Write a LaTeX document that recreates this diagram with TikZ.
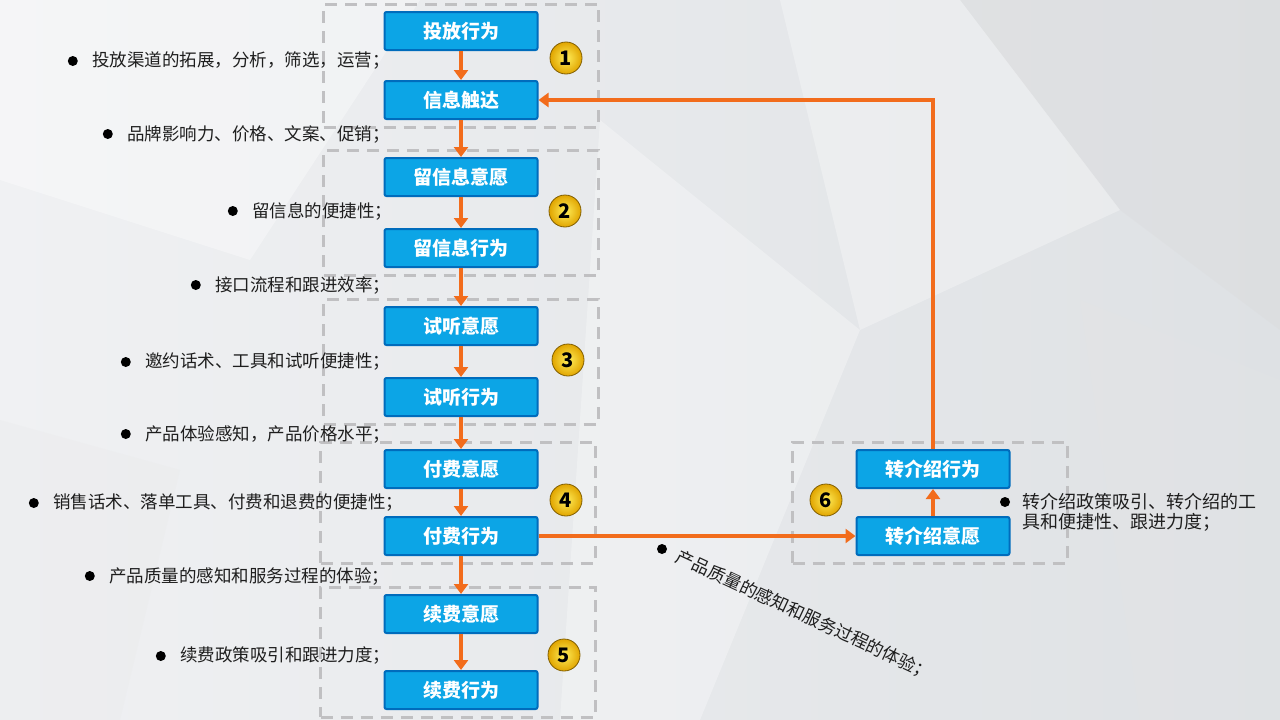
\documentclass[tikz,border=0pt]{standalone}
\usepackage{fontspec}
\setmainfont{Noto Sans CJK SC}
\usetikzlibrary{positioning,arrows.meta,fit,backgrounds}

\definecolor{stageblue}{RGB}{12,165,230}
\definecolor{stageline}{RGB}{0,108,188}
\definecolor{floworange}{RGB}{242,108,28}
\definecolor{groupgray}{RGB}{192,192,194}
\definecolor{bgleft}{RGB}{240,241,243}
\definecolor{bgright}{RGB}{222,225,228}
\definecolor{notetext}{RGB}{30,30,30}
\definecolor{badgein}{RGB}{255,238,90}
\definecolor{badgeout}{RGB}{225,165,0}
\definecolor{badgerim}{RGB}{130,95,0}

\tikzset{
  stage/.style={draw=stageline,line width=2pt,fill=stageblue,rounded corners=2pt,
    minimum width=153pt,minimum height=38pt,text=white,
    font=\fontsize{19}{22}\selectfont\bfseries},
  flow/.style={draw=floworange,line width=3.5pt,-{Triangle[length=10pt,width=14pt]}},
  group/.style={draw=groupgray,line width=3pt,dash pattern=on 12pt off 8pt,
    inner xsep=60pt,inner ysep=7pt},
  badge/.style={circle,shading=radial,inner color=badgein,outer color=badgeout,
    draw=badgerim,line width=0.8pt,minimum size=32pt,inner sep=0pt,
    font=\fontsize{20}{22}\selectfont\bfseries},
  note/.style={anchor=west,inner sep=0pt,text=notetext,font=\fontsize{17.5}{20}\selectfont},
  dot/.style={circle,fill=black,inner sep=0pt,minimum size=10pt},
}

\begin{document}
\begin{tikzpicture}[x=1pt,y=-1pt]
  \useasboundingbox (0,0) rectangle (1280,720);

  % funnel, left column
  \node[stage] (tf) at (461,31) {投放行为};
  \node[stage,below=29pt of tf] (xx) {信息触达};
  \node[stage,below=37pt of xx] (lxy) {留信息意愿};
  \node[stage,below=31pt of lxy] (lxx) {留信息行为};
  \node[stage,below=38pt of lxx] (sty) {试听意愿};
  \node[stage,below=31pt of sty] (stx) {试听行为};
  \node[stage,below=32pt of stx] (ffy) {付费意愿};
  \node[stage,below=27pt of ffy] (ffx) {付费行为};
  \node[stage,below=38pt of ffx] (xfy) {续费意愿};
  \node[stage,below=36pt of xfy] (xfx) {续费行为};

  % referral, right column
  \node[stage,right=317pt of ffx] (zjy) {转介绍意愿};
  \node[stage,above=27pt of zjy] (zjx) {转介绍行为};

  \begin{scope}[on background layer]
    \fill[left color=bgleft,right color=bgright] (0,0) rectangle (1280,720);
    \fill[white,opacity=.35] (0,0) -- (420,0) -- (250,260) -- (0,180) -- cycle;
    \fill[white,opacity=.3] (600,120) -- (860,330) -- (700,720) -- (560,720) -- cycle;
    \fill[gray!30,opacity=.3] (960,0) -- (1280,0) -- (1280,330) -- (1120,210) -- cycle;
    \fill[gray!20,opacity=.25] (1080,300) -- (1280,380) -- (1280,720) -- (1140,720) -- cycle;
    \fill[white,opacity=.3] (780,0) -- (960,0) -- (1120,210) -- (860,330) -- cycle;
    \fill[gray!20,opacity=.2] (0,420) -- (180,470) -- (120,720) -- (0,720) -- cycle;
    \node[group,fit=(tf)(xx)] (g1) {};
    \node[group,fit=(lxy)(lxx)] (g2) {};
    \node[group,fit=(sty)(stx)] (g3) {};
    \node[group,fit=(ffy)(ffx),xshift=-3pt] (g4) {};
    \node[group,fit=(xfy)(xfx),xshift=-3pt] (g5) {};
    \node[group,fit=(zjx)(zjy),xshift=-3pt] (g6) {};
  \end{scope}

  \node[badge] (n1) at (566,58) {1};
  \node[badge] (n2) at (565,211) {2};
  \node[badge] (n3) at (568,360) {3};
  \node[badge] (n4) at (566,500) {4};
  \node[badge] (n5) at (564,655) {5};
  \node[badge] (n6) at (826,500) {6};

  \foreach \a/\b in {tf/xx,xx/lxy,lxy/lxx,lxx/sty,sty/stx,stx/ffy,ffy/ffx,ffx/xfy,xfy/xfx,zjy/zjx}
    \draw[flow] (\a) -- (\b);
  \draw[flow] (ffx.east) -- (zjy.west);
  \draw[flow] (zjx.north) |- (xx.east);

  % factors
  \node[note] (t1) at (92,61) {投放渠道的拓展，分析，筛选，运营；};
  \node[note] (t2) at (127,134) {品牌影响力、价格、文案、促销；};
  \node[note] (t3) at (252,211) {留信息的便捷性；};
  \node[note] (t4) at (215,285) {接口流程和跟进效率；};
  \node[note] (t5) at (145,362) {邀约话术、工具和试听便捷性；};
  \node[note] (t6) at (145,434) {产品体验感知，产品价格水平；};
  \node[note] (t7) at (53,503) {销售话术、落单工具、付费和退费的便捷性；};
  \node[note] (t8) at (109,576) {产品质量的感知和服务过程的体验；};
  \node[note] (t9) at (180,656) {续费政策吸引和跟进力度；};
  \node[note,rotate=-25] (t10) at (677,556) {产品质量的感知和服务过程的体验；};
  \node[note,anchor=north west,align=left,font=\fontsize{18}{20}\selectfont] (t11) at (1022,493)
    {转介绍政策吸引、转介绍的工\\具和便捷性、跟进力度；};
  \foreach \t in {1,...,9}
    \node[dot,left=14pt of t\t] (d\t) {};
  \node[dot] (d10) at (662,549) {};
  \node[dot] (d11) at (1005,502) {};
\end{tikzpicture}
\end{document}
